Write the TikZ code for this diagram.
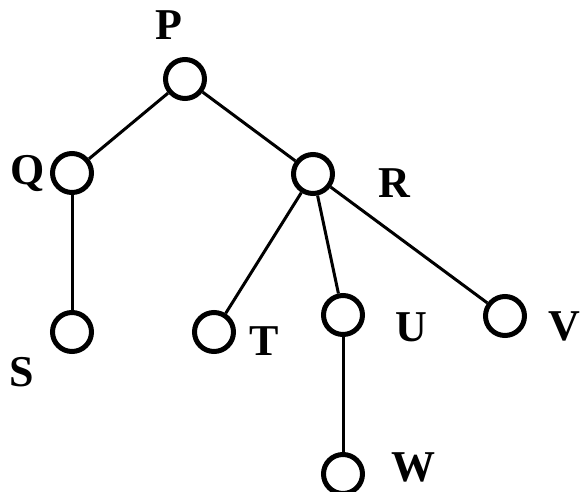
\documentclass[tikz,border=0pt]{standalone}
\usepackage{fontspec}
\setmainfont{Liberation Serif}
\tikzset{
  vert/.style={circle, draw, line width=5pt, minimum size=39pt, inner sep=0pt},
  lbl/.style={font=\fontsize{44}{44}\selectfont\bfseries, inner sep=0pt}
}
\begin{document}
\begin{tikzpicture}[x=1pt, y=-1pt]
      \useasboundingbox (0,0) rectangle (581,492);
      \draw
        (185,79) node[vert] (P){}
        (72,173) node[vert] (Q){}
        (313,174) node[vert] (R){}
        (72,332) node[vert] (S){}
        (214,332) node[vert] (T){}
        (343,315) node[vert] (U){}
        (505,316) node[vert] (V){}
        (343,474) node[vert] (W){};
      \draw
        (169,25) node[lbl] (lP){P}
        (28,174) node[lbl] (lQ){Q}
        (394,183) node[lbl] (lR){R}
        (22,372) node[lbl] (lS){S}
        (264,341) node[lbl] (lT){T}
        (411,327) node[lbl] (lU){U}
        (564,326) node[lbl] (lV){V}
        (413,467) node[lbl] (lW){W};
      \begin{scope}[-, line width=3pt]
        \draw (P) to (Q);
        \draw (P) to (R);
        \draw (Q) to (S);
        \draw (R) to (T);
        \draw (R) to (U);
        \draw (R) to (V);
        \draw (U) to (W);
      \end{scope}
    \end{tikzpicture}
\end{document}
